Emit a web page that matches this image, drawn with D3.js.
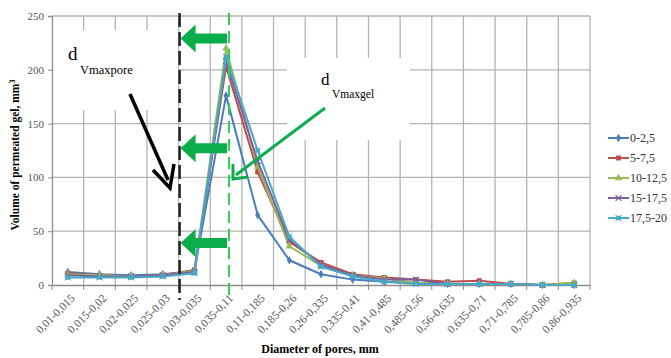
<!DOCTYPE html>
<html>
<head>
<meta charset="utf-8">
<script src="https://cdn.jsdelivr.net/npm/d3@7"></script>
<style>
body { margin: 0; background: #fff; }
svg text { font-family: "Liberation Serif", "Times New Roman", serif; }
</style>
</head>
<body>
<svg id="chart" width="671" height="358" font-family="Liberation Serif"></svg>
<script>
var categories = ["0,01-0,015", "0,015-0,02", "0,02-0,025", "0,025-0,03", "0,03-0,035",
	"0,035-0,11", "0,11-0,185", "0,185-0,26", "0,26-0,335", "0,335-0,41", "0,41-0,485",
	"0,485-0,56", "0,56-0,635", "0,635-0,71", "0,71-0,785", "0,785-0,86", "0,86-0,935"];
var seriesNames = ["0-2,5", "5-7,5", "10-12,5", "15-17,5", "17,5-20"];
var s0 = [12, 10, 9, 10, 13, 176, 65, 23, 10, 5, 3, 2, 1, 1, 1, 0, 0];
var s1 = [11, 9, 8, 9, 14, 203, 105, 40, 21, 10, 7, 5, 3, 4, 1, 0, 2];
var s2 = [10, 9, 8, 9, 13, 220, 110, 36, 18, 9, 6, 2, 1, 1, 1, 0, 2];
var s3 = [9, 8, 8, 9, 12, 208, 115, 42, 19, 9, 5, 5, 1, 1, 1, 0, 0];
var s4 = [7, 7, 7, 8, 11, 212, 125, 45, 17, 8, 3, 1, 1, 1, 1, 0, 0];
var yTicks = [0, 50, 100, 150, 200, 250];
var colors = ["#4a7ebb", "#be4b48", "#98b954", "#7d60a0", "#46aac5"];
var symbols = ["diamond", "square", "triangle", "asterisk", "star"];
var arrowLevels = [229, 127, 39];

var svg = d3.select("#chart");
var x = d3.scaleBand().domain(categories).range([52, 590]);
var y = d3.scaleLinear().domain([0, 250]).range([285, 16]);
var allSeries = [s0, s1, s2, s3, s4];

// grid
var grid = svg.append("g").attr("stroke", "#b3b3b3").attr("stroke-width", 1.3);
yTicks.forEach(function(t)
{
	if (t > 0)
		grid.append("line").attr("x1", 52).attr("x2", 590).attr("y1", y(t)).attr("y2", y(t));
});
categories.forEach(function(c)
{
	var xr = x(c) + x.bandwidth();
	grid.append("line").attr("x1", xr).attr("x2", xr).attr("y1", y(250)).attr("y2", y(0));
});

// white annotation boxes covering grid
svg.append("rect").attr("x", 53).attr("y", 30).attr("width", 125).attr("height", 80).attr("fill", "#fff");
svg.append("rect").attr("x", 287).attr("y", 58).attr("width", 123).attr("height", 82).attr("fill", "#fff");

// axes
var yAxis = svg.append("g").attr("transform", "translate(52,0)")
	.call(d3.axisLeft(y).tickValues(yTicks).tickSize(4).tickPadding(4));
yAxis.attr("font-family", null);
yAxis.select(".domain").attr("stroke", "#8c8c8c").attr("stroke-width", 1.3);
yAxis.selectAll(".tick line").attr("stroke", "#8c8c8c");
yAxis.selectAll("text").attr("fill", "#555").style("font-size", "11px");

var xAxis = svg.append("g").attr("transform", "translate(0,285)")
	.call(d3.axisBottom(x).tickSize(0).tickFormat(""));
xAxis.attr("font-family", null);
xAxis.select(".domain").attr("stroke", "#8c8c8c").attr("stroke-width", 1.3);
categories.forEach(function(c, i)
{
	var xl = x(c);
	xAxis.append("line").attr("x1", xl).attr("x2", xl).attr("y1", 0).attr("y2", 5).attr("stroke", "#8c8c8c");
	var cx = x(c) + x.bandwidth() / 2;
	xAxis.append("text")
		.attr("transform", "translate(" + (cx + 5) + ",11) rotate(-45)")
		.attr("text-anchor", "end")
		.attr("dy", "0.35em")
		.attr("fill", "#555")
		.style("font-size", "11.5px")
		.text(c);
});
xAxis.append("line").attr("x1", 590).attr("x2", 590).attr("y1", 0).attr("y2", 5).attr("stroke", "#8c8c8c");

// axis titles
svg.append("text").attr("x", 320).attr("y", 353).attr("text-anchor", "middle")
	.style("font-size", "12px").style("font-weight", "bold").text("Diameter of pores, mm");
var yt = svg.append("text").attr("transform", "translate(19,155) rotate(-90)").attr("text-anchor", "middle")
	.style("font-size", "11.5px").style("font-weight", "bold");
yt.append("tspan").text("Volume of permeated gel, mm");
yt.append("tspan").attr("dy", "-0.45em").style("font-size", "8px").text("3");

// symbol helper
function marker(g, type, color, cx, cy)
{
	if (type === "diamond")
		g.append("path").attr("d", d3.symbol(d3.symbolDiamond, 22)()).attr("fill", color)
			.attr("transform", "translate(" + cx + "," + cy + ")");
	else if (type === "square")
		g.append("path").attr("d", d3.symbol(d3.symbolSquare, 24)()).attr("fill", color)
			.attr("transform", "translate(" + cx + "," + cy + ")");
	else if (type === "triangle")
		g.append("path").attr("d", d3.symbol(d3.symbolTriangle, 24)()).attr("fill", color)
			.attr("transform", "translate(" + cx + "," + cy + ")");
	else if (type === "asterisk")
		g.append("path").attr("d", d3.symbol(d3.symbolTimes, 24)()).attr("stroke", color).attr("stroke-width", 1.2)
			.attr("fill", "none").attr("transform", "translate(" + cx + "," + cy + ")");
	else
	{
		g.append("path").attr("d", d3.symbol(d3.symbolSquare, 20)()).attr("fill", color)
			.attr("transform", "translate(" + cx + "," + cy + ")");
		g.append("path").attr("d", d3.symbol(d3.symbolTimes, 26)()).attr("stroke", color).attr("stroke-width", 1)
			.attr("fill", "none").attr("transform", "translate(" + cx + "," + cy + ")");
	}
}

// series
var line = d3.line()
	.x(function(d, i) { return x(categories[i]) + x.bandwidth() / 2; })
	.y(function(d) { return y(d); });
allSeries.forEach(function(s, k)
{
	var g = svg.append("g");
	g.append("path").datum(s).attr("d", line).attr("fill", "none")
		.attr("stroke", colors[k]).attr("stroke-width", 2).attr("stroke-linejoin", "round");
	s.forEach(function(v, i)
	{
		marker(g, symbols[k], colors[k], x(categories[i]) + x.bandwidth() / 2, y(v));
	});
});

// dashed reference lines
var xPore = x(categories[4]);
var xGel = x(categories[5]) + x.bandwidth() / 2 + 3;
svg.append("line").attr("x1", xPore + 1).attr("x2", xPore + 1).attr("y1", 13).attr("y2", 300)
	.attr("stroke", "#222").attr("stroke-width", 2.5).attr("stroke-dasharray", "14,5");
svg.append("line").attr("x1", xGel).attr("x2", xGel).attr("y1", 13).attr("y2", 300)
	.attr("stroke", "#2ecc5a").attr("stroke-width", 2).attr("stroke-dasharray", "12,6");

// green horizontal arrows
arrowLevels.forEach(function(v)
{
	var yy = y(v), tip = xPore + 2, tail = xGel - 2;
	var p = d3.path();
	p.moveTo(tip, yy);
	p.lineTo(tip + 15, yy - 14);
	p.lineTo(tip + 15, yy - 5);
	p.lineTo(tail, yy - 5);
	p.lineTo(tail, yy + 5);
	p.lineTo(tip + 15, yy + 5);
	p.lineTo(tip + 15, yy + 14);
	p.closePath();
	svg.append("path").attr("d", p.toString()).attr("fill", "#0aad4a");
});

// annotation labels
svg.append("text").attr("x", 68).attr("y", 60).style("font-size", "19px").text("d");
svg.append("text").attr("x", 80).attr("y", 74).style("font-size", "12.5px").text("Vmaxpore");
svg.append("text").attr("x", 321).attr("y", 85).style("font-size", "17px").text("d");
svg.append("text").attr("x", 332).attr("y", 98).style("font-size", "11.5px").text("Vmaxgel");

// black arrow
svg.append("line").attr("x1", 130).attr("y1", 94).attr("x2", 168).attr("y2", 180)
	.attr("stroke", "#000").attr("stroke-width", 3.5);
svg.append("path").attr("d", "M153,170 L170,188 L174,164").attr("fill", "none")
	.attr("stroke", "#000").attr("stroke-width", 3.5).attr("stroke-linejoin", "miter");

// green diagonal arrow
svg.append("line").attr("x1", 325).attr("y1", 108).attr("x2", 236).attr("y2", 175)
	.attr("stroke", "#0aad4a").attr("stroke-width", 3);
svg.append("path").attr("d", "M233,164 L233,179 L248,177").attr("fill", "none")
	.attr("stroke", "#0aad4a").attr("stroke-width", 3);

// legend
seriesNames.forEach(function(n, k)
{
	var ly = 138 + k * 20;
	var g = svg.append("g");
	g.append("line").attr("x1", 608).attr("x2", 629).attr("y1", ly).attr("y2", ly)
		.attr("stroke", colors[k]).attr("stroke-width", 2);
	marker(g, symbols[k], colors[k], 618.5, ly);
	g.append("text").attr("x", 630).attr("y", ly + 4).style("font-size", "12px").attr("fill", "#333").text(n);
});
</script>
</body>
</html>
